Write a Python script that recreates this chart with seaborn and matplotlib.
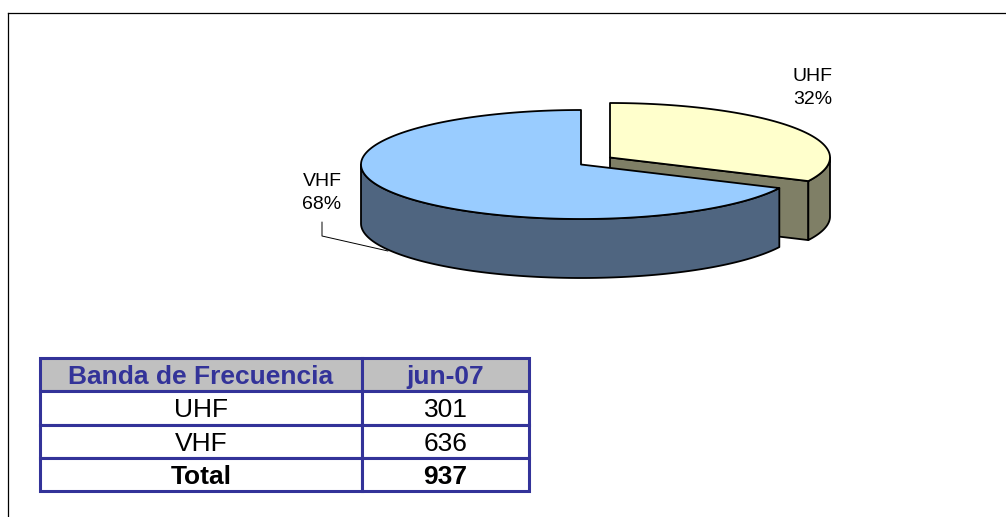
import numpy as np
import matplotlib.pyplot as plt
import seaborn as sb
from matplotlib.patches import Polygon

bands = ['UHF', 'VHF']
counts = [301, 636]
header = ['Banda de Frecuencia', 'jun-07']
total_label = 'Total'
top_colors = ['#FFFFCC', '#99CCFF']
side_colors = ['#7F7F66', '#4F6580']

sb.set_theme(style = 'white')
plt.rcParams['font.family'] = ['Liberation Sans', 'DejaVu Sans']

W, H = 1006, 517
LEFT, TOP = 8, 13
RX, RY = 220, 54.5
DEPTH = 59
UHF_C = (610, 157.5)
VHF_C = (581, 164.5)
NAVY = '#333399'

fig = plt.figure(figsize = (W / 100, H / 100), dpi = 100)
ax = fig.add_axes([LEFT / W, 0, (W - LEFT) / W, (H - TOP) / H])
ax.set_xlim(LEFT, W)
ax.set_ylim(H, TOP)
ax.set_xticks([])
ax.set_yticks([])
sb.despine(ax = ax, top = False, left = False, right = True, bottom = True)
for side in ['left', 'top']:
    ax.spines[side].set_color('black')
    ax.spines[side].set_linewidth(0.9)


def rim(center, a, b):
    # angles in degrees, clockwise from 12 o'clock
    t = np.radians(np.linspace(a, b, 200))
    return np.column_stack([center[0] + RX * np.sin(t), center[1] - RY * np.cos(t)])


def face(points, color, z):
    ax.add_patch(Polygon(points, closed = True, facecolor = color, edgecolor = 'black',
                         linewidth = 1.3, joinstyle = 'round', zorder = z))


split = 360 * counts[0] / sum(counts)
down = np.array([0, DEPTH])

# UHF slice, pulled out to the upper right
c = np.array(UHF_C)
corner = rim(c, split, split)[0]
face([c, corner, corner + down, c + down], side_colors[0], 2)
arc = rim(c, 90, split)
face(np.vstack([arc, (arc + down)[::-1]]), side_colors[0], 2)
face(np.vstack([[c], rim(c, 0, split)]), top_colors[0], 3)

# VHF slice
c = np.array(VHF_C)
arc = rim(c, split, 270)
face(np.vstack([arc, (arc + down)[::-1]]), side_colors[1], 4)
face(np.vstack([[c], rim(c, split, 360)]), top_colors[1], 5)

# data labels
for name, n, x, y in zip(bands, counts, [813, 322], [88, 193]):
    ax.text(x, y, f'{name}\n{100 * n / sum(counts):.0f}%', ha = 'center', va = 'center',
            fontsize = 14, linespacing = 1.4, color = 'black', zorder = 6)
ax.plot([322, 322, 388], [222, 236, 251], color = 'black', linewidth = 0.7, zorder = 1)

# table under the pie
rows = [header] + [[b, str(n)] for b, n in zip(bands, counts)] + [[total_label, str(sum(counts))]]
x0, x1, xm = 40, 529, 362
y0, y1 = 358, 491
tab = ax.table(cellText = rows, cellLoc = 'center', colWidths = [xm - x0, x1 - xm],
               bbox = [(x0 - LEFT) / (W - LEFT), (H - y1) / (H - TOP),
                       (x1 - x0) / (W - LEFT), (y1 - y0) / (H - TOP)])
tab.auto_set_font_size(False)
for (r, col), cell in tab.get_celld().items():
    cell.set_edgecolor(NAVY)
    cell.set_linewidth(2.2)
    cell.get_text().set_fontsize(19)
    cell.get_text().set_color('black')
    cell.get_text().set_verticalalignment('center_baseline')
    if r == 0:
        cell.set_facecolor('#C0C0C0')
        cell.get_text().set_color(NAVY)
        cell.get_text().set_fontweight('bold')
    elif r == len(rows) - 1:
        cell.get_text().set_fontweight('bold')

fig.savefig('out.png', dpi = 100)
plt.close(fig)
